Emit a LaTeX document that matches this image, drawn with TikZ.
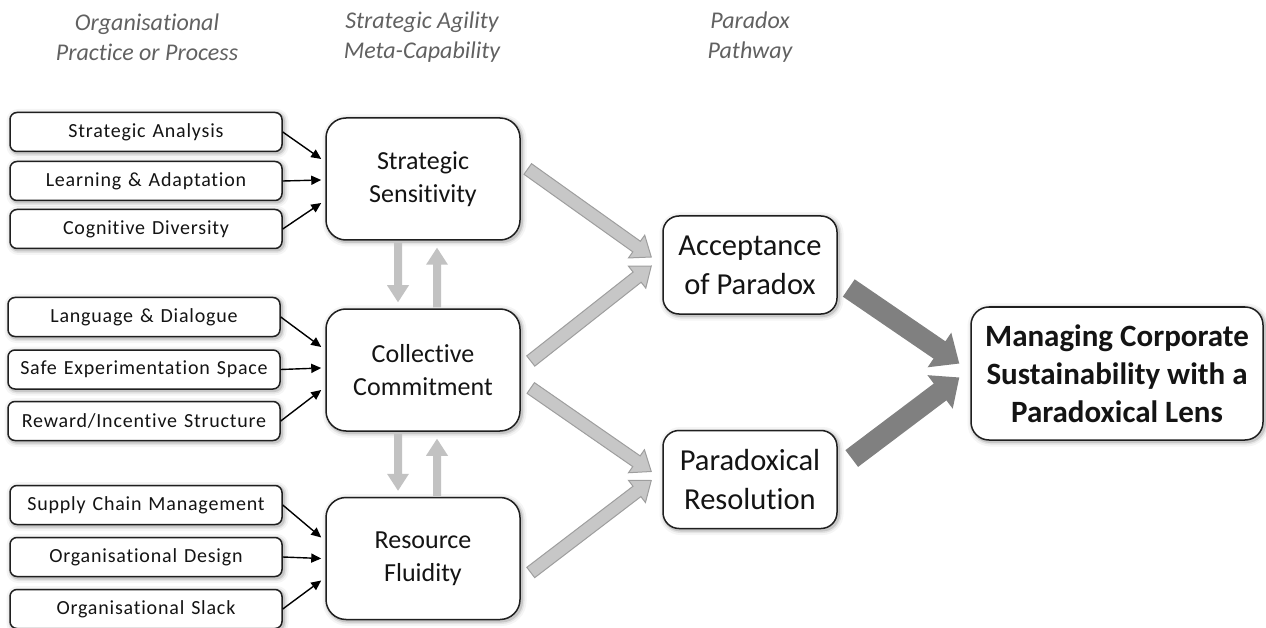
\documentclass[tikz,border=0pt]{standalone}
\usepackage{fontspec}
\setmainfont{Carlito}[Ligatures=NoCommon]
\newfontfamily\lboxfont{Carlito}[Ligatures=NoCommon,LetterSpace=4,WordSpace=1.3]
\usetikzlibrary{calc,arrows.meta}
\newcommand\blockarr[6]{%
  \coordinate (ba-c) at ($(#3)!#6!(#2)$);
  \draw[#1] ($(#2)!#4!90:(#3)$) -- ($(ba-c)!#4!90:(#3)$) -- ($(ba-c)!#5!90:(#3)$) -- (#3)
    -- ($(ba-c)!#5!-90:(#3)$) -- ($(ba-c)!#4!-90:(#3)$) -- ($(#2)!#4!-90:(#3)$) -- cycle;}
\begin{document}
\begin{tikzpicture}[x=1pt,y=-1pt,
  soft/.style={
    preaction={draw=black,opacity=0.04,line width=10pt,transform canvas={xshift=1.5pt,yshift=-1.5pt}},
    preaction={draw=black,opacity=0.07,line width=6pt,transform canvas={xshift=1.5pt,yshift=-1.5pt}},
    preaction={draw=black,opacity=0.12,line width=3pt,transform canvas={xshift=1.5pt,yshift=-1.5pt}}},
  box/.style={soft,draw=black!88,line width=1.5pt,fill=white,rectangle,inner sep=0pt,align=center,text=black!92},
  lbox/.style={box,minimum width=272pt,minimum height=39pt,rounded corners=7pt,font=\lboxfont\fontsize{20}{24}\selectfont},
  mbox/.style={box,minimum width=194pt,minimum height=122pt,rounded corners=20pt,font=\fontsize{26}{33}\selectfont},
  pbox/.style={box,minimum width=174pt,minimum height=98pt,rounded corners=16pt,font=\fontsize{30.5}{39}\selectfont},
  fbox/.style={box,minimum width=292pt,minimum height=133pt,rounded corners=18pt,font=\bfseries\fontsize{31}{38}\selectfont},
  hdr/.style={align=center,text=black!62,font=\itshape\fontsize{24}{30}\selectfont,inner sep=0pt},
  thin/.style={draw=black,line width=1.4pt,-{Triangle[length=10pt,width=9pt]}},
  lgarrow/.style={fill=black!22,draw=black!38,line width=1pt,line join=miter},
  vgarrow/.style={fill=black!24,draw=none},
  dgarrow/.style={fill=black!50,draw=none}
]
\useasboundingbox (0,0) rectangle (1266,628);

% headers
\node[hdr] (h1) at (147,37) {Organisational\\Practice or Process};
\node[hdr] (h2) at (422,37) {Strategic Agility\\Meta-Capability};
\node[hdr] (h3) at (750,37) {Paradox\\Pathway};

% left boxes
\node[lbox] (sa) at (146,132) {Strategic Analysis};
\node[lbox] (la) at (146,181) {Learning \& Adaptation};
\node[lbox] (cd) at (146,229) {Cognitive Diversity};
\node[lbox] (ld) at (144,317) {Language \& Dialogue};
\node[lbox] (se) at (144,369.5) {Safe Experimentation Space};
\node[lbox] (ri) at (144,421) {Reward/Incentive Structure};
\node[lbox] (sc) at (146,505) {Supply Chain Management};
\node[lbox] (od) at (146,557) {Organisational Design};
\node[lbox] (os) at (146,609) {Organisational Slack};

% middle boxes
\node[mbox] (ss) at (423,179) {Strategic\\Sensitivity};
\node[mbox] (cc) at (423,370) {Collective\\Commitment};
\node[mbox] (rf) at (423,558.5) {Resource\\Fluidity};

% paradox boxes
\node[pbox] (ap) at (750,265) {Acceptance\\of Paradox};
\node[pbox] (pr) at (750,479.5) {Paradoxical\\Resolution};

% final
\node[fbox] (fn) at (1117,373.5) {Managing Corporate\\Sustainability with a\\Paradoxical Lens};

% thin arrows
\coordinate (ss1) at ($(ss.west)+(-4,-20)$);
\coordinate (ss2) at ($(ss.west)+(-4,1)$);
\coordinate (ss3) at ($(ss.west)+(-4,24)$);
\coordinate (cc1) at ($(cc.west)+(-4,-23)$);
\coordinate (cc2) at ($(cc.west)+(-4,-2)$);
\coordinate (cc3) at ($(cc.west)+(-4,20)$);
\coordinate (rf1) at ($(rf.west)+(-4,-21)$);
\coordinate (rf2) at ($(rf.west)+(-4,0)$);
\coordinate (rf3) at ($(rf.west)+(-4,22)$);
\draw[thin] (sa.east) -- (ss1);
\draw[thin] (la.east) -- (ss2);
\draw[thin] (cd.east) -- (ss3);
\draw[thin] (ld.east) -- (cc1);
\draw[thin] (se.east) -- (cc2);
\draw[thin] (ri.east) -- (cc3);
\draw[thin] (sc.east) -- (rf1);
\draw[thin] (od.east) -- (rf2);
\draw[thin] (os.east) -- (rf3);

% vertical arrows
\coordinate (v1s) at ($(ss.south)+(-25,2)$);
\coordinate (v1e) at ($(cc.north)+(-25,-6)$);
\coordinate (v2s) at ($(cc.north)+(14,-1)$);
\coordinate (v2e) at ($(ss.south)+(14,7)$);
\coordinate (v3s) at ($(cc.south)+(-25,2)$);
\coordinate (v3e) at ($(rf.north)+(-25,-6)$);
\coordinate (v4s) at ($(rf.north)+(14,-1)$);
\coordinate (v4e) at ($(cc.south)+(14,7)$);
\blockarr{vgarrow}{v1s}{v1e}{4pt}{11pt}{17pt}
\blockarr{vgarrow}{v2s}{v2e}{4pt}{11pt}{17pt}
\blockarr{vgarrow}{v3s}{v3e}{4pt}{11pt}{17pt}
\blockarr{vgarrow}{v4s}{v4e}{4pt}{11pt}{17pt}

% light grey block arrows
\coordinate (a1s) at ($(ss.east)+(7,-10)$);
\coordinate (a1e) at ($(ap.west)+(-11,-8)$);
\coordinate (a2s) at ($(cc.east)+(10,-9)$);
\coordinate (a2e) at ($(ap.west)+(-11,1)$);
\coordinate (a3s) at ($(cc.east)+(10,18)$);
\coordinate (a3e) at ($(pr.west)+(-11,-8)$);
\coordinate (a4s) at ($(rf.east)+(10,14)$);
\coordinate (a4e) at ($(pr.west)+(-11,1)$);
\blockarr{lgarrow}{a1s}{a1e}{6.5pt}{14pt}{18pt}
\blockarr{lgarrow}{a2s}{a2e}{6.5pt}{14pt}{18pt}
\blockarr{lgarrow}{a3s}{a3e}{6.5pt}{14pt}{18pt}
\blockarr{lgarrow}{a4s}{a4e}{6.5pt}{14pt}{18pt}

% dark grey block arrows
\coordinate (d1s) at ($(ap.east)+(11,23)$);
\coordinate (d1e) at ($(fn.west)+(-11,-10)$);
\coordinate (d2s) at ($(pr.east)+(14,-21)$);
\coordinate (d2e) at ($(fn.west)+(-11,4)$);
\blockarr{dgarrow}{d1s}{d1e}{10.5pt}{21pt}{24pt}
\blockarr{dgarrow}{d2s}{d2e}{10.5pt}{21pt}{24pt}
\end{tikzpicture}
\end{document}
